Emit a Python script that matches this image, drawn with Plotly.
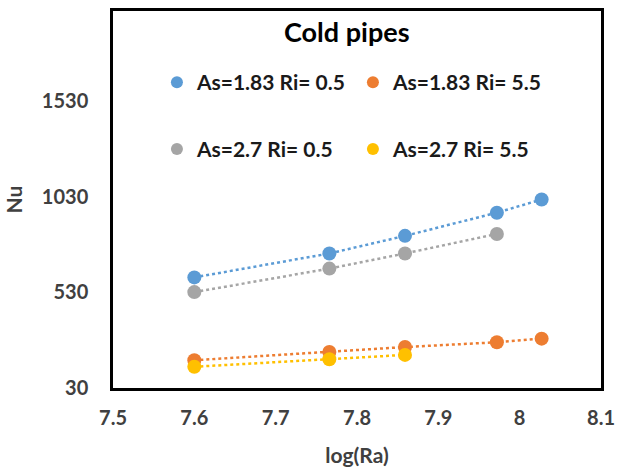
import plotly.graph_objects as go

# Data
log_ra = [7.6, 7.766, 7.859, 7.972, 8.027]
nu_as183_ri05 = [608, 733, 825, 946, 1015]
nu_as183_ri55 = [175, 218, 244, 269, 288]
log_ra_as27 = [7.6, 7.766, 7.859, 7.972]
nu_as27_ri05 = [531, 654, 733, 835]
log_ra_as27_55 = [7.6, 7.766, 7.859]
nu_as27_ri55 = [141, 180, 203]

series = [
    ("As=1.83 Ri= 0.5", log_ra, nu_as183_ri05, "#5B9BD5", "legend"),
    ("As=1.83 Ri= 5.5", log_ra, nu_as183_ri55, "#ED7D31", "legend"),
    ("As=2.7 Ri= 0.5", log_ra_as27, nu_as27_ri05, "#A5A5A5", "legend2"),
    ("As=2.7 Ri= 5.5", log_ra_as27_55, nu_as27_ri55, "#FFC000", "legend2"),
]

x_ticks = [7.5, 7.6, 7.7, 7.8, 7.9, 8.0, 8.1]
x_ticklabels = ["7.5", "7.6", "7.7", "7.8", "7.9", "8", "8.1"]
y_ticks = [30, 530, 1030, 1530]
y_ticklabels = ["30", "530", "1030", "1530"]

FONT = "Lato"

fig = go.Figure()
for name, xs, ys, color, lg in series:
    fig.add_trace(go.Scatter(
        x=xs, y=ys, mode="lines", showlegend=False,
        line=dict(color=color, width=2.5, dash="dot"), hoverinfo="skip"))
for name, xs, ys, color, lg in series:
    fig.add_trace(go.Scatter(
        x=xs, y=ys, mode="markers", name=name, legend=lg,
        marker=dict(color=color, size=14)))

legend_common = dict(
    orientation="h", xanchor="left", yanchor="middle",
    font=dict(family=FONT, size=21, color="#1a1a1a", weight="bold"),
    bgcolor="rgba(0,0,0,0)", entrywidth=151, entrywidthmode="pixels",
    itemsizing="constant", tracegroupgap=0,
)

fig.update_layout(
    width=623, height=472,
    margin=dict(l=113, r=16, t=8, b=79),
    paper_bgcolor="white", plot_bgcolor="white",
    font=dict(family=FONT),
    legend=dict(x=0.09, y=0.81, **legend_common),
    legend2=dict(x=0.09, y=0.633, **legend_common),
    annotations=[dict(
        text="Cold pipes", x=0.48, y=0.946, xref="paper", yref="paper",
        xanchor="center", yanchor="middle",
        showarrow=False, font=dict(family=FONT, size=27, color="#000000", weight="bold"))],
)

fig.update_xaxes(
    range=[7.5, 8.1], tickvals=x_ticks, ticktext=x_ticklabels,
    showgrid=False, zeroline=False,
    showline=True, mirror=True, linecolor="#000000", linewidth=2.5,
    tickfont=dict(family=FONT, size=20, color="#404040", weight="bold"),
    ticklabelstandoff=10,
    title=dict(text="log(Ra)", font=dict(family=FONT, size=21, color="#404040", weight="bold"), standoff=21),
)
fig.update_yaxes(
    range=[30, 2000], tickvals=y_ticks, ticktext=y_ticklabels,
    showgrid=False, zeroline=False,
    showline=True, mirror=True, linecolor="#000000", linewidth=2.5,
    tickfont=dict(family=FONT, size=20, color="#404040", weight="bold"),
    ticklabelstandoff=18,
    title=dict(text="Nu", font=dict(family=FONT, size=21, color="#404040", weight="bold"), standoff=14),
)

fig.write_html("out.html", config={"displayModeBar": False},
               post_script="document.body.style.margin='0';")
